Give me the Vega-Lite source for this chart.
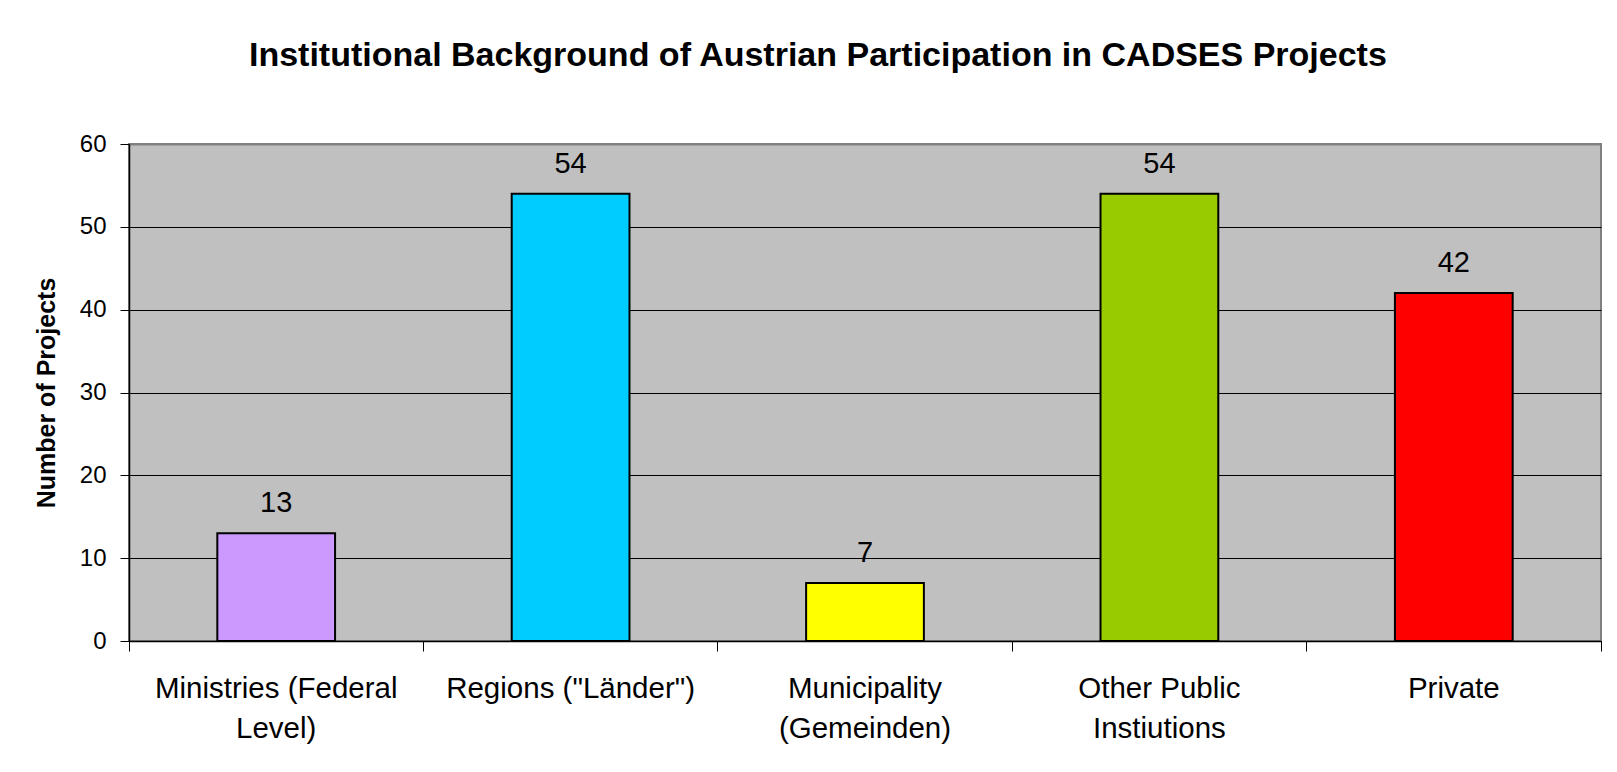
{
  "$schema": "https://vega.github.io/schema/vega-lite/v6.json",
  "autosize": {"type": "none"},
  "width": 1472,
  "height": 497,
  "padding": {"left": 129, "top": 144, "right": 16, "bottom": 131},
  "background": "white",
  "title": {
    "text": "Institutional Background of Austrian Participation in CADSES Projects",
    "font": "Liberation Sans",
    "fontSize": 34,
    "fontWeight": "bold",
    "color": "black",
    "baseline": "alphabetic",
    "frame": "bounds",
    "anchor": "middle",
    "offset": 32
  },
  "data": {
    "values": [
      {"category": "Ministries (Federal|Level)", "projects": 13, "color": "#CC99FF"},
      {"category": "Regions (\"Länder\")", "projects": 54, "color": "#00CCFF"},
      {"category": "Municipality|(Gemeinden)", "projects": 7, "color": "#FFFF00"},
      {"category": "Other Public|Instiutions", "projects": 54, "color": "#99CC00"},
      {"category": "Private", "projects": 42, "color": "#FF0000"}
    ]
  },
  "encoding": {
    "x": {
      "field": "category",
      "type": "nominal",
      "sort": null,
      "scale": {"paddingInner": 0, "paddingOuter": 0},
      "axis": {
        "title": null,
        "labelAngle": 0,
        "labelExpr": "split(datum.label, '|')",
        "labelFont": "Liberation Sans",
        "labelFontSize": 29.5,
        "labelColor": "black",
        "labelLineHeight": 40,
        "labelPadding": 23,
        "labelBaseline": "top",
        "labelLimit": 0,
        "tickSize": 10,
        "tickColor": "black",
        "tickWidth": 1,
        "domainColor": "black",
        "domainWidth": 1.5,
        "bandPosition": 1,
        "tickExtra": true,
        "grid": false
      }
    },
    "y": {
      "field": "projects",
      "type": "quantitative",
      "scale": {"domain": [0, 60], "nice": false},
      "axis": {
        "title": "Number of Projects",
        "titleFont": "Liberation Sans",
        "titleFontSize": 25,
        "titleFontWeight": "bold",
        "titleColor": "black",
        "titlePadding": 20,
        "values": [0, 10, 20, 30, 40, 50, 60],
        "labelFont": "Liberation Sans",
        "labelFontSize": 24,
        "labelColor": "black",
        "labelPadding": 14,
        "tickSize": 9,
        "tickColor": "black",
        "domainColor": "black",
        "domainWidth": 1.5,
        "grid": true,
        "gridColor": {"condition": {"test": "datum.value == 60", "value": "#808080"}, "value": "black"},
        "gridWidth": {"condition": {"test": "datum.value == 60", "value": 2}, "value": 1},
        "gridOpacity": 1
      }
    }
  },
  "layer": [
    {
      "mark": {"type": "bar", "width": {"band": 0.4}, "stroke": "black", "strokeWidth": 2},
      "encoding": {
        "color": {"field": "color", "type": "nominal", "scale": null}
      }
    },
    {
      "mark": {"type": "text", "font": "Liberation Sans", "fontSize": 29, "color": "black", "baseline": "alphabetic", "dy": -21},
      "encoding": {
        "text": {"field": "projects", "type": "quantitative"}
      }
    }
  ],
  "config": {
    "view": {"fill": "#C0C0C0", "stroke": "#808080", "strokeWidth": 2}
  }
}
